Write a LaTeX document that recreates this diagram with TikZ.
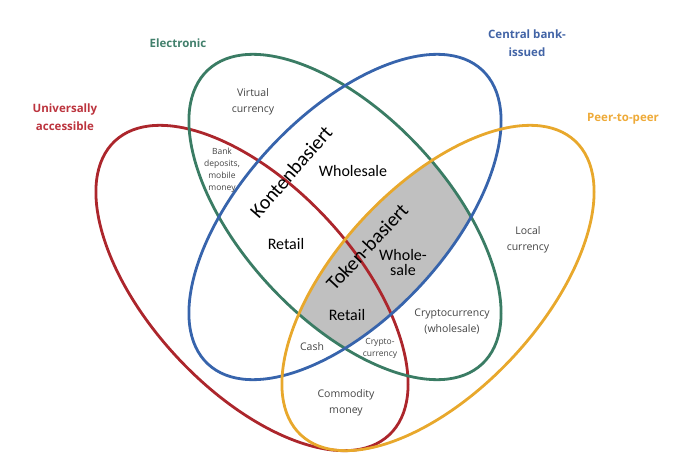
\documentclass[tikz,border=0pt]{standalone}
\usepackage{fontspec}
\setmainfont{Open Sans}
\newfontfamily\calib{Carlito}
\definecolor{cred}{RGB}{172,38,44}
\definecolor{cgreen}{RGB}{58,124,100}
\definecolor{cblue}{RGB}{55,100,172}
\definecolor{corange}{RGB}{232,168,44}
\definecolor{lred}{RGB}{188,52,62}
\definecolor{lgreen}{RGB}{66,128,108}
\definecolor{lblue}{RGB}{66,100,166}
\definecolor{lorange}{RGB}{238,170,56}
\definecolor{txtgray}{RGB}{68,68,68}
\definecolor{fillgray}{RGB}{192,192,192}
\begin{document}
\begin{tikzpicture}[x=1pt,y=1pt,
  ring/.style={line width=2.8pt},
  setlabel/.style={font=\fontsize{11.5}{18.5}\selectfont\bfseries, align=center, inner sep=0pt},
  small/.style={font=\fontsize{10.5}{16}\selectfont, text=txtgray, align=center, inner sep=0pt},
  tiny/.style={font=\fontsize{8.5}{12}\selectfont, text=txtgray, align=center, inner sep=0pt},
  big/.style={font=\calib\fontsize{16}{15}\selectfont, text=black, align=center, inner sep=0pt},
  huge/.style={font=\calib\fontsize{20}{22}\selectfont, text=black, inner sep=0pt}]
\useasboundingbox (0,0) rectangle (686,-460);
% gray triple intersection (electronic, central bank, peer-to-peer)
\begin{scope}
  \clip[shift={(345,-217)}, rotate=-47] (0,0) ellipse (201 and 102);
  \clip[shift={(345,-217)}, rotate=47] (0,0) ellipse (201 and 102);
  \fill[fillgray, shift={(438,-288)}, rotate=47] (0,0) ellipse (201 and 102);
\end{scope}
% ellipses
\draw[ring, cred, shift={(252,-288)}, rotate=-47] (0,0) ellipse (201 and 102);
\draw[ring, cgreen, shift={(345,-217)}, rotate=-47] (0,0) ellipse (201 and 102);
\draw[ring, cblue, shift={(345,-217)}, rotate=47] (0,0) ellipse (201 and 102);
\draw[ring, corange, shift={(438,-288)}, rotate=47] (0,0) ellipse (201 and 102);
% set labels
\node[setlabel, text=lgreen] (electronic) at (178,-43) {Electronic};
\node[setlabel, text=lred] (universal) at (65,-117) {Universally\\accessible};
\node[setlabel, text=lblue] (central) at (527,-43) {Central bank-\\issued};
\node[setlabel, text=lorange] (p2p) at (623,-119) {Peer-to-peer};
% region labels
\node[small] (virtual) at (253,-102) {Virtual\\currency};
\node[tiny] (bank) at (222,-170) {Bank\\deposits,\\mobile\\money};
\node[huge, rotate=49] (konten) at (291,-172) {Kontenbasiert};
\node[big] (wholesale) at (353,-171) {Wholesale};
\node[big] (retail1) at (286,-244) {Retail};
\node[huge, rotate=47] (token) at (367,-247) {Token-basiert};
\node[big] (wholesale2) at (403,-263) {Whole-\\sale};
\node[big] (retail2) at (347,-315) {Retail};
\node[small] (crypto) at (452,-322) {Cryptocurrency\\(wholesale)};
\node[small] (cash) at (312,-347) {Cash};
\node[tiny] (crypto2) at (380,-348) {Crypto-\\currency};
\node[small] (local) at (528,-240) {Local\\currency};
\node[small] (commodity) at (346,-403) {Commodity\\money};
\end{tikzpicture}
\end{document}
